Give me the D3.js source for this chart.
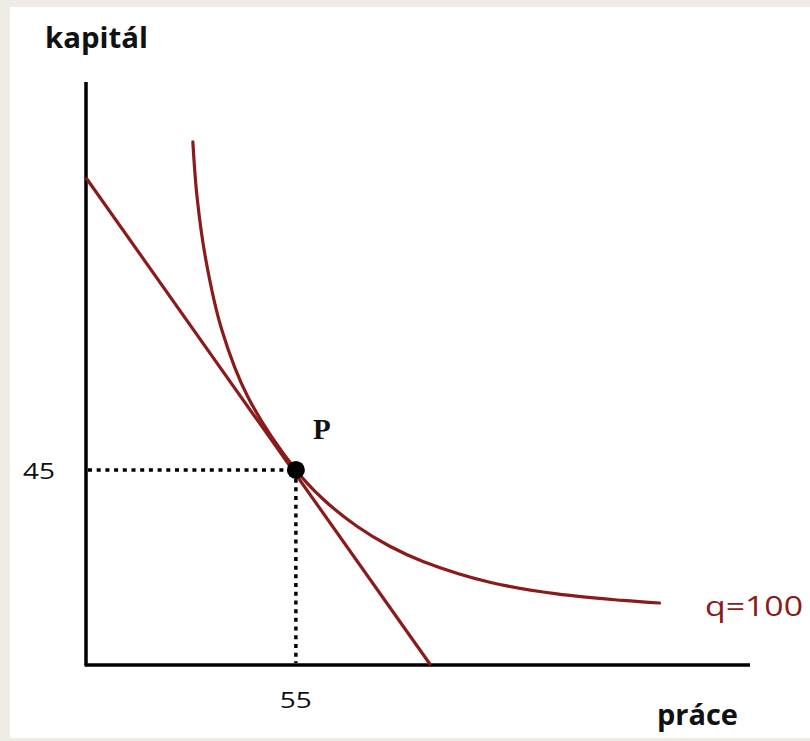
<!DOCTYPE html>
<html><head><meta charset="utf-8">
<script src="https://cdn.jsdelivr.net/npm/d3@7"></script>
<style>html,body{margin:0;padding:0;background:#efebe5;}svg{display:block;}</style>
</head><body>
<script>
// Isoquant q=100 (labour, capital)
const isoLabor   = [28.0, 29.1, 31.4, 35.6, 42.4, 55, 62.1, 71.0, 79.6, 88.3, 105.8, 123.4, 140.7, 150.3];
const isoCapital = [120.7, 108.0, 93.5, 77.3, 61.9, 45, 38.3, 32.0, 27.4, 23.9, 19.1, 16.4, 14.9, 14.3];
// Isocost (budget) line endpoints
const costLabor   = [0, 90.3];
const costCapital = [112.4, 0];
// Optimum point P
const pointLabor = [55];
const pointCapital = [45];
const xTickLabels = ["55"];
const yTickLabels = ["45"];
const curveLabel = "q=100";

const W = 810, H = 741;
const svg = d3.select("body").append("svg").attr("width", W).attr("height", H);
svg.append("rect").attr("x", 10).attr("y", 7).attr("width", W - 10).attr("height", 731).attr("fill", "#fff");

const x = d3.scaleLinear().domain([0, 174]).range([86, 750]);
const y = d3.scaleLinear().domain([0, 134.5]).range([665, 82]);
const red = "#8b1a1a";

// axes
svg.append("line").attr("x1", x(0)).attr("x2", x(0)).attr("y1", y(134.5)).attr("y2", y(0))
  .attr("stroke", "#000").attr("stroke-width", 3.5);
svg.append("line").attr("x1", x(0) - 1.5).attr("x2", x(174)).attr("y1", y(0)).attr("y2", y(0))
  .attr("stroke", "#000").attr("stroke-width", 3.5);

// dotted guides
svg.append("line").attr("x1", x(0) + 2).attr("x2", x(pointLabor[0])).attr("y1", y(pointCapital[0])).attr("y2", y(pointCapital[0]))
  .attr("stroke", "#000").attr("stroke-width", 3.5).attr("stroke-dasharray", "4,4.7");
svg.append("line").attr("x1", x(pointLabor[0])).attr("x2", x(pointLabor[0])).attr("y1", y(pointCapital[0])).attr("y2", y(0) - 2)
  .attr("stroke", "#000").attr("stroke-width", 3.5).attr("stroke-dasharray", "4,4.7");

// isocost line
const line = d3.line().x(d => x(d[0])).y(d => y(d[1]));
svg.append("path").datum(d3.zip(costLabor, costCapital)).attr("d", line)
  .attr("fill", "none").attr("stroke", red).attr("stroke-width", 3.2);

// isoquant
const curve = d3.line().x(d => x(d[0])).y(d => y(d[1])).curve(d3.curveCatmullRom.alpha(0.5));
svg.append("path").datum(d3.zip(isoLabor, isoCapital)).attr("d", curve)
  .attr("fill", "none").attr("stroke", red).attr("stroke-width", 3.2).attr("stroke-linecap", "round");

// point
svg.append("circle").attr("cx", x(pointLabor[0])).attr("cy", y(pointCapital[0])).attr("r", 9).attr("fill", "#000");

// texts
const sans = "'Liberation Sans Narrow','Open Sans',sans-serif";
svg.append("text").attr("x", 45).attr("y", 48).text("kapitál")
  .attr("font-family", sans).attr("font-weight", "bold").attr("font-size", 29)
  .attr("textLength", 103).attr("lengthAdjust", "spacingAndGlyphs").attr("fill", "#111");
svg.append("text").attr("x", 657).attr("y", 725).text("práce")
  .attr("font-family", sans).attr("font-weight", "bold").attr("font-size", 29)
  .attr("textLength", 81).attr("lengthAdjust", "spacingAndGlyphs").attr("fill", "#111");
svg.append("text").attr("x", 705).attr("y", 616).text(curveLabel)
  .attr("font-family", "'Open Sans',sans-serif").attr("font-size", 28)
  .attr("textLength", 98).attr("lengthAdjust", "spacingAndGlyphs").attr("fill", red);
svg.append("text").attr("x", 23).attr("y", 479).text(yTickLabels[0])
  .attr("font-family", "'Open Sans',sans-serif").attr("font-size", 22)
  .attr("textLength", 32).attr("lengthAdjust", "spacingAndGlyphs").attr("fill", "#111");
svg.append("text").attr("x", x(pointLabor[0])).attr("y", 708).attr("text-anchor", "middle").text(xTickLabels[0])
  .attr("font-family", "'Open Sans',sans-serif").attr("font-size", 22)
  .attr("textLength", 32).attr("lengthAdjust", "spacingAndGlyphs").attr("fill", "#111");
svg.append("text").attr("x", 313).attr("y", 439).text("P")
  .attr("font-family", "'Liberation Serif',serif").attr("font-weight", "bold").attr("font-size", 29)
  .attr("fill", "#111");
</script>
</body></html>
